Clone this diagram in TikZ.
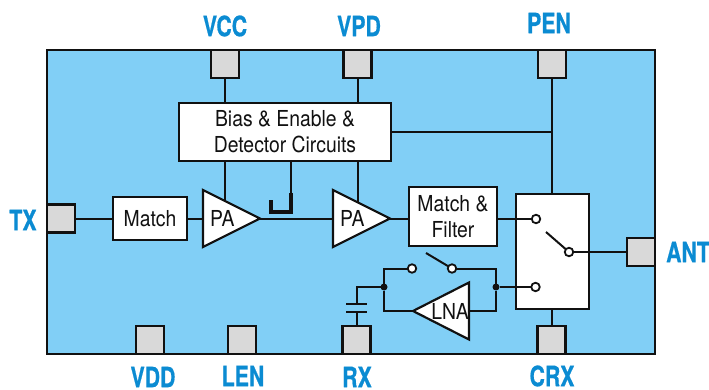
\documentclass[tikz,border=0pt]{standalone}
\usepackage{fontspec}
\setmainfont{TeX Gyre Heros}
\usetikzlibrary{shapes.geometric}
\newfontfamily\boxfont[FakeStretch=0.88]{TeX Gyre Heros}
\newfontfamily\pinfont[FakeStretch=0.76,FakeBold=0.6]{TeX Gyre Heros Bold}

\definecolor{chipblue}{HTML}{81CFF6}
\definecolor{pinblue}{HTML}{0B8BD2}
\definecolor{padgray}{HTML}{D9D9D9}
\definecolor{inkblack}{HTML}{111111}

\begin{document}
\begin{tikzpicture}[x=1pt, y=-1pt, line width=2pt, draw=inkblack,
  pad/.style={draw, fill=padgray, line width=2.4pt, minimum size=28pt, inner sep=0pt, outer sep=0pt},
  block/.style={draw, fill=white, line width=2.4pt, align=center, inner sep=0pt, outer sep=0pt,
    font=\boxfont\fontsize{22}{26}\selectfont, text=inkblack},
  amp/.style={draw, fill=white, line width=2.2pt, isosceles triangle, isosceles triangle stretches,
    minimum width=57pt, minimum height=57pt, inner sep=0pt, outer sep=0pt,
    font=\boxfont\fontsize{22}{24}\selectfont, text=inkblack},
  pin/.style={text=pinblue, font=\pinfont\fontsize{28}{28}\selectfont, inner sep=0pt},
  term/.style={circle, draw, fill=white, line width=1.8pt, minimum size=8.5pt, inner sep=0pt, outer sep=0pt},
  joint/.style={circle, fill=inkblack, minimum size=7pt, inner sep=0pt, outer sep=0pt}]

\useasboundingbox (0,0) rectangle (709,390);

% ================================================================ the chip
\draw[fill=chipblue, line width=2.8pt] (47,50) rectangle (655,354);

% ==================================================================== pads
\node[pad] (vccpad) at (225,64) {};
\node[pad] (vpdpad) at (357.5,64) {};
\node[pad] (penpad) at (552,64) {};
\node[pad] (txpad)  at (61,218.5) {};
\node[pad] (antpad) at (641,252) {};
\node[pad] (vddpad) at (150,340) {};
\node[pad] (lenpad) at (242,340) {};
\node[pad] (rxpad)  at (356.5,340) {};
\node[pad] (crxpad) at (551.5,340) {};

% ================================================================== labels
\node[pin] (vcclab) at (225,26) {VCC};
\node[pin] (vpdlab) at (359,26) {VPD};
\node[pin] (penlab) at (549,23) {PEN};
\node[pin] (txlab)  at (23,220) {TX};
\node[pin] (antlab) at (688,252) {ANT};
\node[pin] (vddlab) at (153,377) {VDD};
\node[pin] (lenlab) at (243,376) {LEN};
\node[pin] (rxlab)  at (357,377) {RX};
\node[pin] (crxlab) at (552,376) {CRX};

% ================================================================== blocks
\node[block, minimum width=212pt, minimum height=58pt] (bias) at (285,132)
  {Bias \& Enable \&\\ Detector Circuits};
\node[block, minimum width=74pt, minimum height=43pt] (match) at (150,218.5) {Match};
\node[block, minimum width=88pt, minimum height=59pt] (filter) at (453,216.5)
  {Match \&\\ Filter};
\node[draw, fill=white, line width=2.4pt, minimum width=73pt, minimum height=115pt,
  inner sep=0pt, outer sep=0pt] (switch) at (552.5,251.5) {};

\node[amp, anchor=apex] (pa1) at (260,218.5) {\hspace*{3pt}PA};
\node[amp, anchor=apex] (pa2) at (390,218.5) {\hspace*{3pt}PA};
% The LNA text is wider than the triangle lets it be, so it sits in its own node.
\node[amp, anchor=apex, shape border rotate=180, minimum height=56pt] (lna) at (413,311) {};
\node[inner sep=0pt, text=inkblack, font=\boxfont\fontsize{22}{24}\selectfont] (lnatext) at (450,311) {LNA};

% The two supply wires stop on the sloping tops of the amplifiers.
\coordinate (pa1top) at (225,201);
\coordinate (pa2top) at (357.5,202);
\coordinate (detfoot) at (291,212);

% ================================================================= top wires
\draw (vccpad.south) -- (vccpad.south |- bias.north);
\draw (vpdpad.south) -- (vpdpad.south |- bias.north);
\draw (vccpad.south |- bias.south) -- (pa1top);
\draw (vpdpad.south |- bias.south) -- (pa2top);
\draw (penpad.south) -- (penpad.south |- switch.north);
\draw (bias.east) -- (bias.east -| penpad.south);

% Detector hook on the line between the amplifiers.
\draw (detfoot |- bias.south) -- (291,193);
\draw[line width=3.4pt] (291,193) -- (detfoot) -- (271,212) -- (271,200);

% ================================================================ signal path
\draw (txpad.east) -- (match.west);
\draw (match.east) -- (pa1.lower side);
\draw (pa1.apex) -- (pa2.lower side);
\draw (pa2.apex) -- (filter.west |- pa2.apex);

% ==================================================================== switch
\node[term] (swa) at (536,219) {};
\node[term] (swb) at (535.5,287) {};
\node[term] (swc) at (569,252) {};
\coordinate (swarm) at (546,232);
\draw (filter.east |- swa) -- (swa);
\draw (swc) -- (antpad.west);
\draw (swc) -- (swarm);
\draw (switch.south -| crxpad.north) -- (crxpad.north);

% ======================================================== receive side bypass
\node[term] (bya) at (412,268.5) {};
\node[term] (byb) at (452,268.5) {};
\node[joint] (jleft) at (384,287) {};
\node[joint] (jright) at (496,287) {};
\coordinate (byarm) at (426,253);
\draw (jleft) |- (bya);
\draw (jleft) |- (lna.apex);
\draw (byb) -| (jright);
\draw (lna.lower side) -| (jright);
\draw (byb) -- (byarm);
\draw (jright) -- (swb);

% ================================================================= RX capacitor
\coordinate (capa) at (356.5,304);
\coordinate (capb) at (356.5,312);
\draw (jleft) -| (capa);
\draw (capb) -- (rxpad.north);
\draw (346,304) -- (367,304);
\draw (346,312) -- (367,312);

\end{tikzpicture}
\end{document}
